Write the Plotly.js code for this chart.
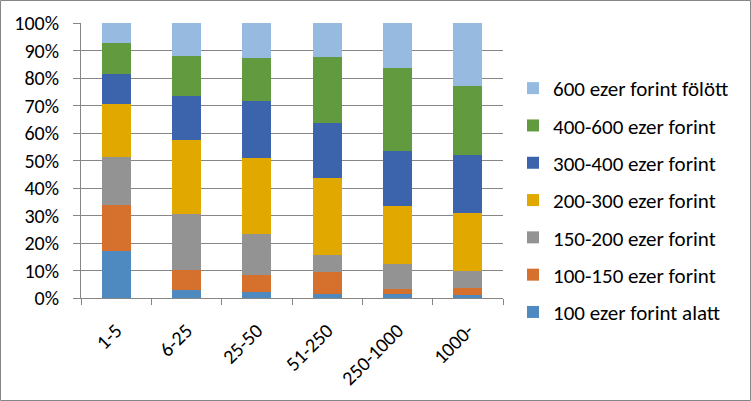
<!DOCTYPE html>
<html>
<head>
<meta charset="utf-8">
<script src="https://cdn.plot.ly/plotly-3.0.1.min.js"></script>
<style>
html,body{margin:0;padding:0;background:#fff;}
#chart{width:751px;height:401px;}
</style>
</head>
<body>
<div id="chart"></div>
<script>
var categories = ["1-5", "6-25", "25-50", "51-250", "250-1000", "1000-"];
var seriesNames = [
  "100 ezer forint alatt",
  "100-150 ezer forint",
  "150-200 ezer forint",
  "200-300 ezer forint",
  "300-400 ezer forint",
  "400-600 ezer forint",
  "600 ezer forint fölött"
];
var s100alatt = [17.2, 2.9, 2.2, 1.5, 1.5, 1.1];
var s100_150  = [16.6, 7.3, 6.3, 8.0, 1.8, 2.5];
var s150_200  = [17.5, 20.3, 14.8, 6.3, 9.1, 6.3];
var s200_300  = [19.2, 27.0, 27.6, 27.8, 21.1, 21.0];
var s300_400  = [11.0, 16.0, 20.7, 20.0, 20.0, 21.2];
var s400_600  = [11.2, 14.5, 15.7, 24.0, 30.1, 25.0];
var s600felett = [7.3, 12.0, 12.7, 12.4, 16.4, 22.9];
var seriesValues = [s100alatt, s100_150, s150_200, s200_300, s300_400, s400_600, s600felett];
var yTickVals = [0, 10, 20, 30, 40, 50, 60, 70, 80, 90, 100];
var yTickText = ["0%", "10%", "20%", "30%", "40%", "50%", "60%", "70%", "80%", "90%", "100%"];

var colors = ["#4E89C0", "#D6702D", "#939393", "#E1A900", "#3B64AD", "#629A3F", "#97BAE1"];
var FONT = "Carlito, Lato, 'Liberation Sans', sans-serif";
var FS = 20;
var LFS = 21;

var traces = seriesValues.map(function (vals, i) {
  return {
    type: "bar",
    name: seriesNames[i],
    x: categories,
    y: vals,
    marker: {color: colors[i], line: {width: 0}},
    legendgroup: "g" + i,
    legendrank: seriesValues.length - i,
    hoverinfo: "x+y+name"
  };
});

var L = 81, T = 23, PW = 422, PH = 275;
function px(x) { return (x - L) / PW; }
function py(y) { return (T + PH - y) / PH; }

var layout = {
  width: 751,
  height: 401,
  margin: {l: L, r: 751 - L - PW, t: T, b: 401 - T - PH, pad: 0},
  paper_bgcolor: "#ffffff",
  plot_bgcolor: "#ffffff",
  barmode: "stack",
  bargap: 0.585,
  showlegend: true,
  font: {family: FONT, size: FS, color: "#000000"},
  xaxis: {
    type: "category",
    tickson: "boundaries",
    ticks: "outside",
    ticklen: 6,
    tickcolor: "#868686",
    tickwidth: 1,
    showline: true,
    linecolor: "#868686",
    linewidth: 1,
    showgrid: false,
    tickangle: -45,
    ticklabelstandoff: 12,
    tickfont: {family: FONT, size: FS, color: "#000000"},
    fixedrange: true
  },
  yaxis: {
    range: [0, 100],
    tickvals: yTickVals,
    ticktext: yTickText,
    ticks: "outside",
    ticklen: 7,
    tickcolor: "#868686",
    showline: true,
    linecolor: "#868686",
    showgrid: true,
    gridcolor: "#868686",
    gridwidth: 1,
    zeroline: false,
    tickfont: {family: FONT, size: FS, color: "#000000"},
    ticklabelstandoff: 10,
    fixedrange: true
  },
  legend: {
    x: px(513),
    xanchor: "left",
    y: py(68),
    yanchor: "top",
    traceorder: "grouped",
    tracegroupgap: 7,
    font: {family: FONT, size: LFS, color: "#000000"},
    bgcolor: "rgba(0,0,0,0)",
    itemwidth: 30
  },
  shapes: [{
    type: "rect",
    xref: "paper", yref: "paper",
    x0: px(0.5), x1: px(750.5),
    y0: py(400.5), y1: py(0.5),
    line: {color: "#868686", width: 1},
    fillcolor: "rgba(0,0,0,0)",
    layer: "below"
  }]
};

Plotly.newPlot("chart", traces, layout, {displayModeBar: false, staticPlot: true});
</script>
</body>
</html>
